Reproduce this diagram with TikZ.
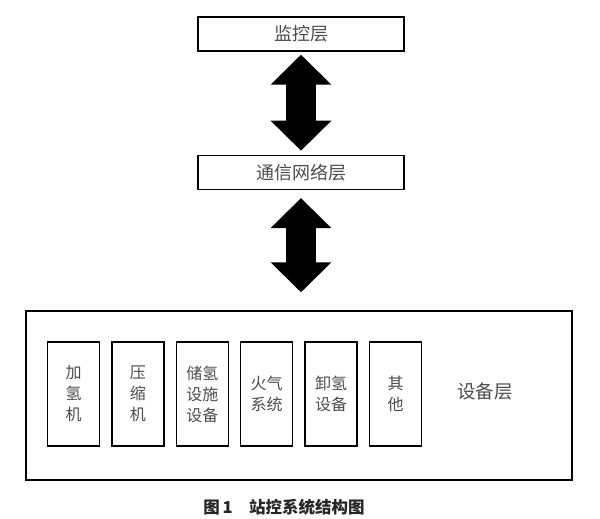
\documentclass[tikz,border=0pt]{standalone}
\usepackage{fontspec}
\setmainfont{Noto Sans CJK SC}
\usetikzlibrary{arrows.meta, positioning}

\begin{document}
\begin{tikzpicture}[x=1pt, y=-1pt, node distance=11pt,
    layer/.style={rectangle, draw, line width=1.4pt, minimum width=206pt, minimum height=34pt, font=\fontsize{18}{20}\selectfont, text=black!70},
    dev/.style={rectangle, draw, line width=1.4pt, minimum width=52pt, minimum height=104pt, align=center, font=\fontsize{16}{21}\selectfont, text=black!70},
    bigarrow/.style={line width=30pt, {Triangle[length=30pt, width=59pt]}-{Triangle[length=30pt, width=59pt]}}]
  \useasboundingbox (0,0) rectangle (600,519);
  \node[layer] (M) at (301,34) {监控层};
  \node[layer, below=103pt of M] (C) {通信网络层};
  \node[rectangle, draw, line width=1.4pt, minimum width=546pt, minimum height=169pt] (D) at (299,395.5) {};
  \node[dev] (d1) at (73.5,394) {加\\氢\\机};
  \node[dev, right=of d1] (d2) {压\\缩\\机};
  \node[dev, right=of d2] (d3) {储氢\\设施\\设备};
  \node[dev, right=of d3] (d4) {火气\\系统};
  \node[dev, right=of d4] (d5) {卸氢\\设备};
  \node[dev, right=of d5] (d6) {其\\他};
  \node[font=\fontsize{18.5}{20}\selectfont, text=black!70] (L) at (485,392) {设备层};
  \node[font=\fontsize{16.5}{18}\selectfont\bfseries, text=black!85] (T) at (284,507) {图\,1\quad 站控系统结构图};
  \draw[bigarrow, shorten <=3pt, shorten >=4pt] (M) -- (C);
  \draw[bigarrow, shorten <=8pt, shorten >=18pt] (C.south) -- (C.south |- D.north);
\end{tikzpicture}
\end{document}
